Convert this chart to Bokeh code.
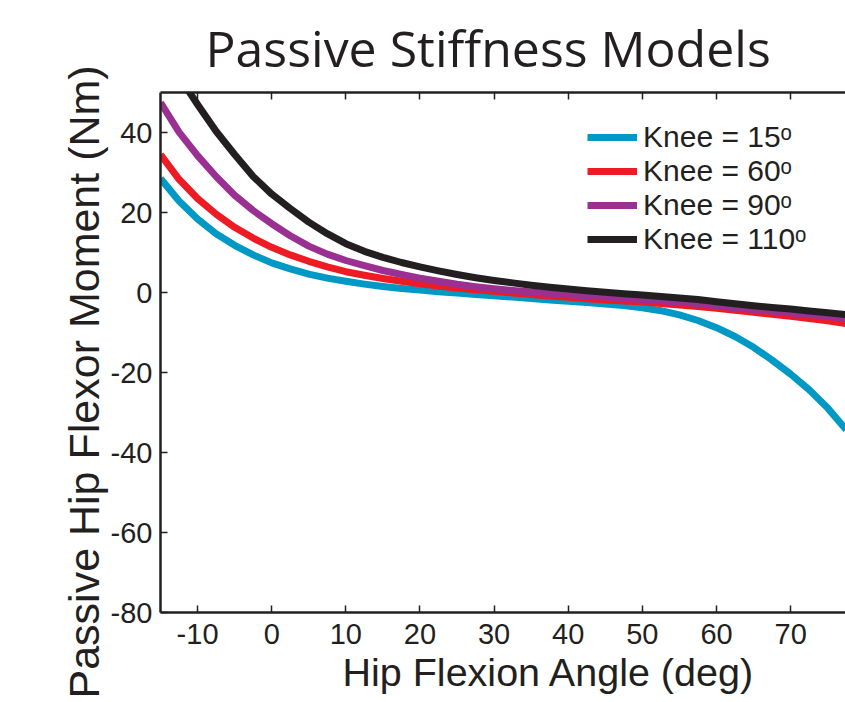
from bokeh.plotting import figure
from bokeh.models import Range1d, LinearAxis, Legend, LegendItem, Title, FixedTicker
from bokeh.embed import file_html
from bokeh.resources import INLINE

# ---------------- data ----------------
hip_angle = [-15, -12.5, -10, -7.5, -5, -2.5, 0, 2.5, 5, 7.5, 10, 12.5, 15, 17.5, 20,
             22.5, 25, 27.5, 30, 32.5, 35, 37.5, 40, 42.5, 45, 47.5, 50, 52.5, 55,
             57.5, 60, 62.5, 65, 67.5, 70, 72.5, 75, 77.5]
knee15 = [28.5, 22.9, 18.4, 14.7, 11.8, 9.4, 7.4, 5.9, 4.6, 3.6, 2.8, 2.1, 1.5, 1.0, 0.6,
          0.2, -0.15, -0.5, -0.8, -1.15, -1.5, -1.85, -2.2, -2.5, -2.85, -3.25, -3.8, -4.55, -5.6,
          -7.0, -8.8, -11.0, -13.7, -16.9, -20.4, -24.3, -28.9, -34.3]
knee60 = [34.5, 28.3, 23.5, 19.6, 16.3, 13.6, 11.3, 9.4, 7.8, 6.4, 5.2, 4.3, 3.5, 2.8, 2.2,
          1.6, 1.1, 0.7, 0.3, -0.1, -0.5, -0.85, -1.2, -1.55, -1.85, -2.1, -2.4, -2.75, -3.1,
          -3.5, -3.95, -4.45, -4.95, -5.45, -5.95, -6.5, -7.1, -7.8]
knee90 = [47.5, 40.1, 34.2, 29.0, 24.3, 20.5, 17.2, 14.2, 11.6, 9.6, 8.0, 6.7, 5.5, 4.5, 3.6,
          2.8, 2.05, 1.45, 0.95, 0.5, 0.1, -0.25, -0.55, -0.85, -1.15, -1.45, -1.75, -2.05, -2.4,
          -2.8, -3.3, -3.8, -4.25, -4.7, -5.1, -5.5, -5.95, -6.5]
knee110 = [62.0, 54.0, 47.0, 40.3, 34.5, 29.0, 24.6, 21.0, 17.6, 14.7, 12.2, 10.3, 8.8, 7.5, 6.4,
           5.4, 4.5, 3.7, 3.0, 2.4, 1.8, 1.3, 0.85, 0.45, 0.05, -0.3, -0.65, -1.0, -1.35,
           -1.75, -2.3, -2.8, -3.3, -3.75, -4.15, -4.6, -5.05, -5.55]

series_labels = ["Knee = 15\u1d52", "Knee = 60\u1d52", "Knee = 90\u1d52", "Knee = 110\u1d52"]
series_values = [knee15, knee60, knee90, knee110]
series_colors = ["#0099c6", "#ed1c24", "#9b3093", "#231f20"]

x_ticks = [-10, 0, 10, 20, 30, 40, 50, 60, 70]
y_ticks = [-80, -60, -40, -20, 0, 20, 40]

title_text = "Passive Stiffness Models"
x_label_text = "Hip Flexion Angle (deg)"
y_label_text = "Passive Hip Flexor Moment (Nm)"

# ---------------- figure ----------------
DARK = "#231f20"
FONT = "Liberation Sans"

p = figure(width=845, height=702, output_backend="svg", toolbar_location=None,
           x_range=Range1d(-15, 77.4), y_range=Range1d(-80, 50),
           min_border_left=160, min_border_right=0, min_border_top=91, min_border_bottom=90,
           x_axis_location=None, y_axis_location=None)
p.outline_line_color = None
p.grid.visible = False
p.background_fill_color = "white"
p.border_fill_color = "white"

def style_axis(ax, ticks, standoff):
    ax.ticker = FixedTicker(ticks=ticks)
    ax.major_label_overrides = {t: str(t) for t in ticks}
    ax.axis_line_color = DARK
    ax.axis_line_width = 2.5
    ax.major_tick_line_color = DARK
    ax.major_tick_line_width = 1.5
    ax.major_tick_in = 7
    ax.major_tick_out = 0
    ax.minor_tick_line_color = None
    ax.major_label_text_font = FONT
    ax.major_label_text_font_size = "29px"
    ax.major_label_text_color = DARK
    ax.major_label_standoff = standoff

xaxis = LinearAxis()
style_axis(xaxis, x_ticks, 11)
p.add_layout(xaxis, "below")

yaxis = LinearAxis()
style_axis(yaxis, y_ticks, 8)
p.add_layout(yaxis, "left")

top_axis = LinearAxis()
style_axis(top_axis, x_ticks, 0)
top_axis.major_label_text_font_size = "0px"
top_axis.major_label_text_alpha = 0
p.add_layout(top_axis, "above")

items = []
for lab, vals, col in zip(series_labels, series_values, series_colors):
    r = p.line(hip_angle, vals, line_color=col, line_width=7, line_join="round")
    items.append(LegendItem(label=lab, renderers=[r]))

legend = Legend(items=items, location=(427, 356), padding=0, margin=0, spacing=0,
                glyph_width=50, glyph_height=34, label_height=34, label_standoff=6,
                label_text_font=FONT, label_text_font_size="30px", label_text_color=DARK,
                border_line_color=None, background_fill_alpha=0)
p.add_layout(legend, "center")

# title and axis titles
p.add_layout(Title(text=title_text, align="left", offset=45, standoff=22,
                   text_font="Open Sans", text_font_size="50px",
                   text_font_style="normal", text_color=DARK), "above")
p.add_layout(Title(text=x_label_text, align="left", offset=182, standoff=2,
                   text_font=FONT, text_font_size="39.5px",
                   text_font_style="normal", text_color=DARK), "below")
p.add_layout(Title(text=y_label_text, align="left", offset=-86, standoff=0,
                   text_font=FONT, text_font_size="43px",
                   text_font_style="normal", text_color=DARK), "left")

open("out.html", "w").write(file_html(p, INLINE))
